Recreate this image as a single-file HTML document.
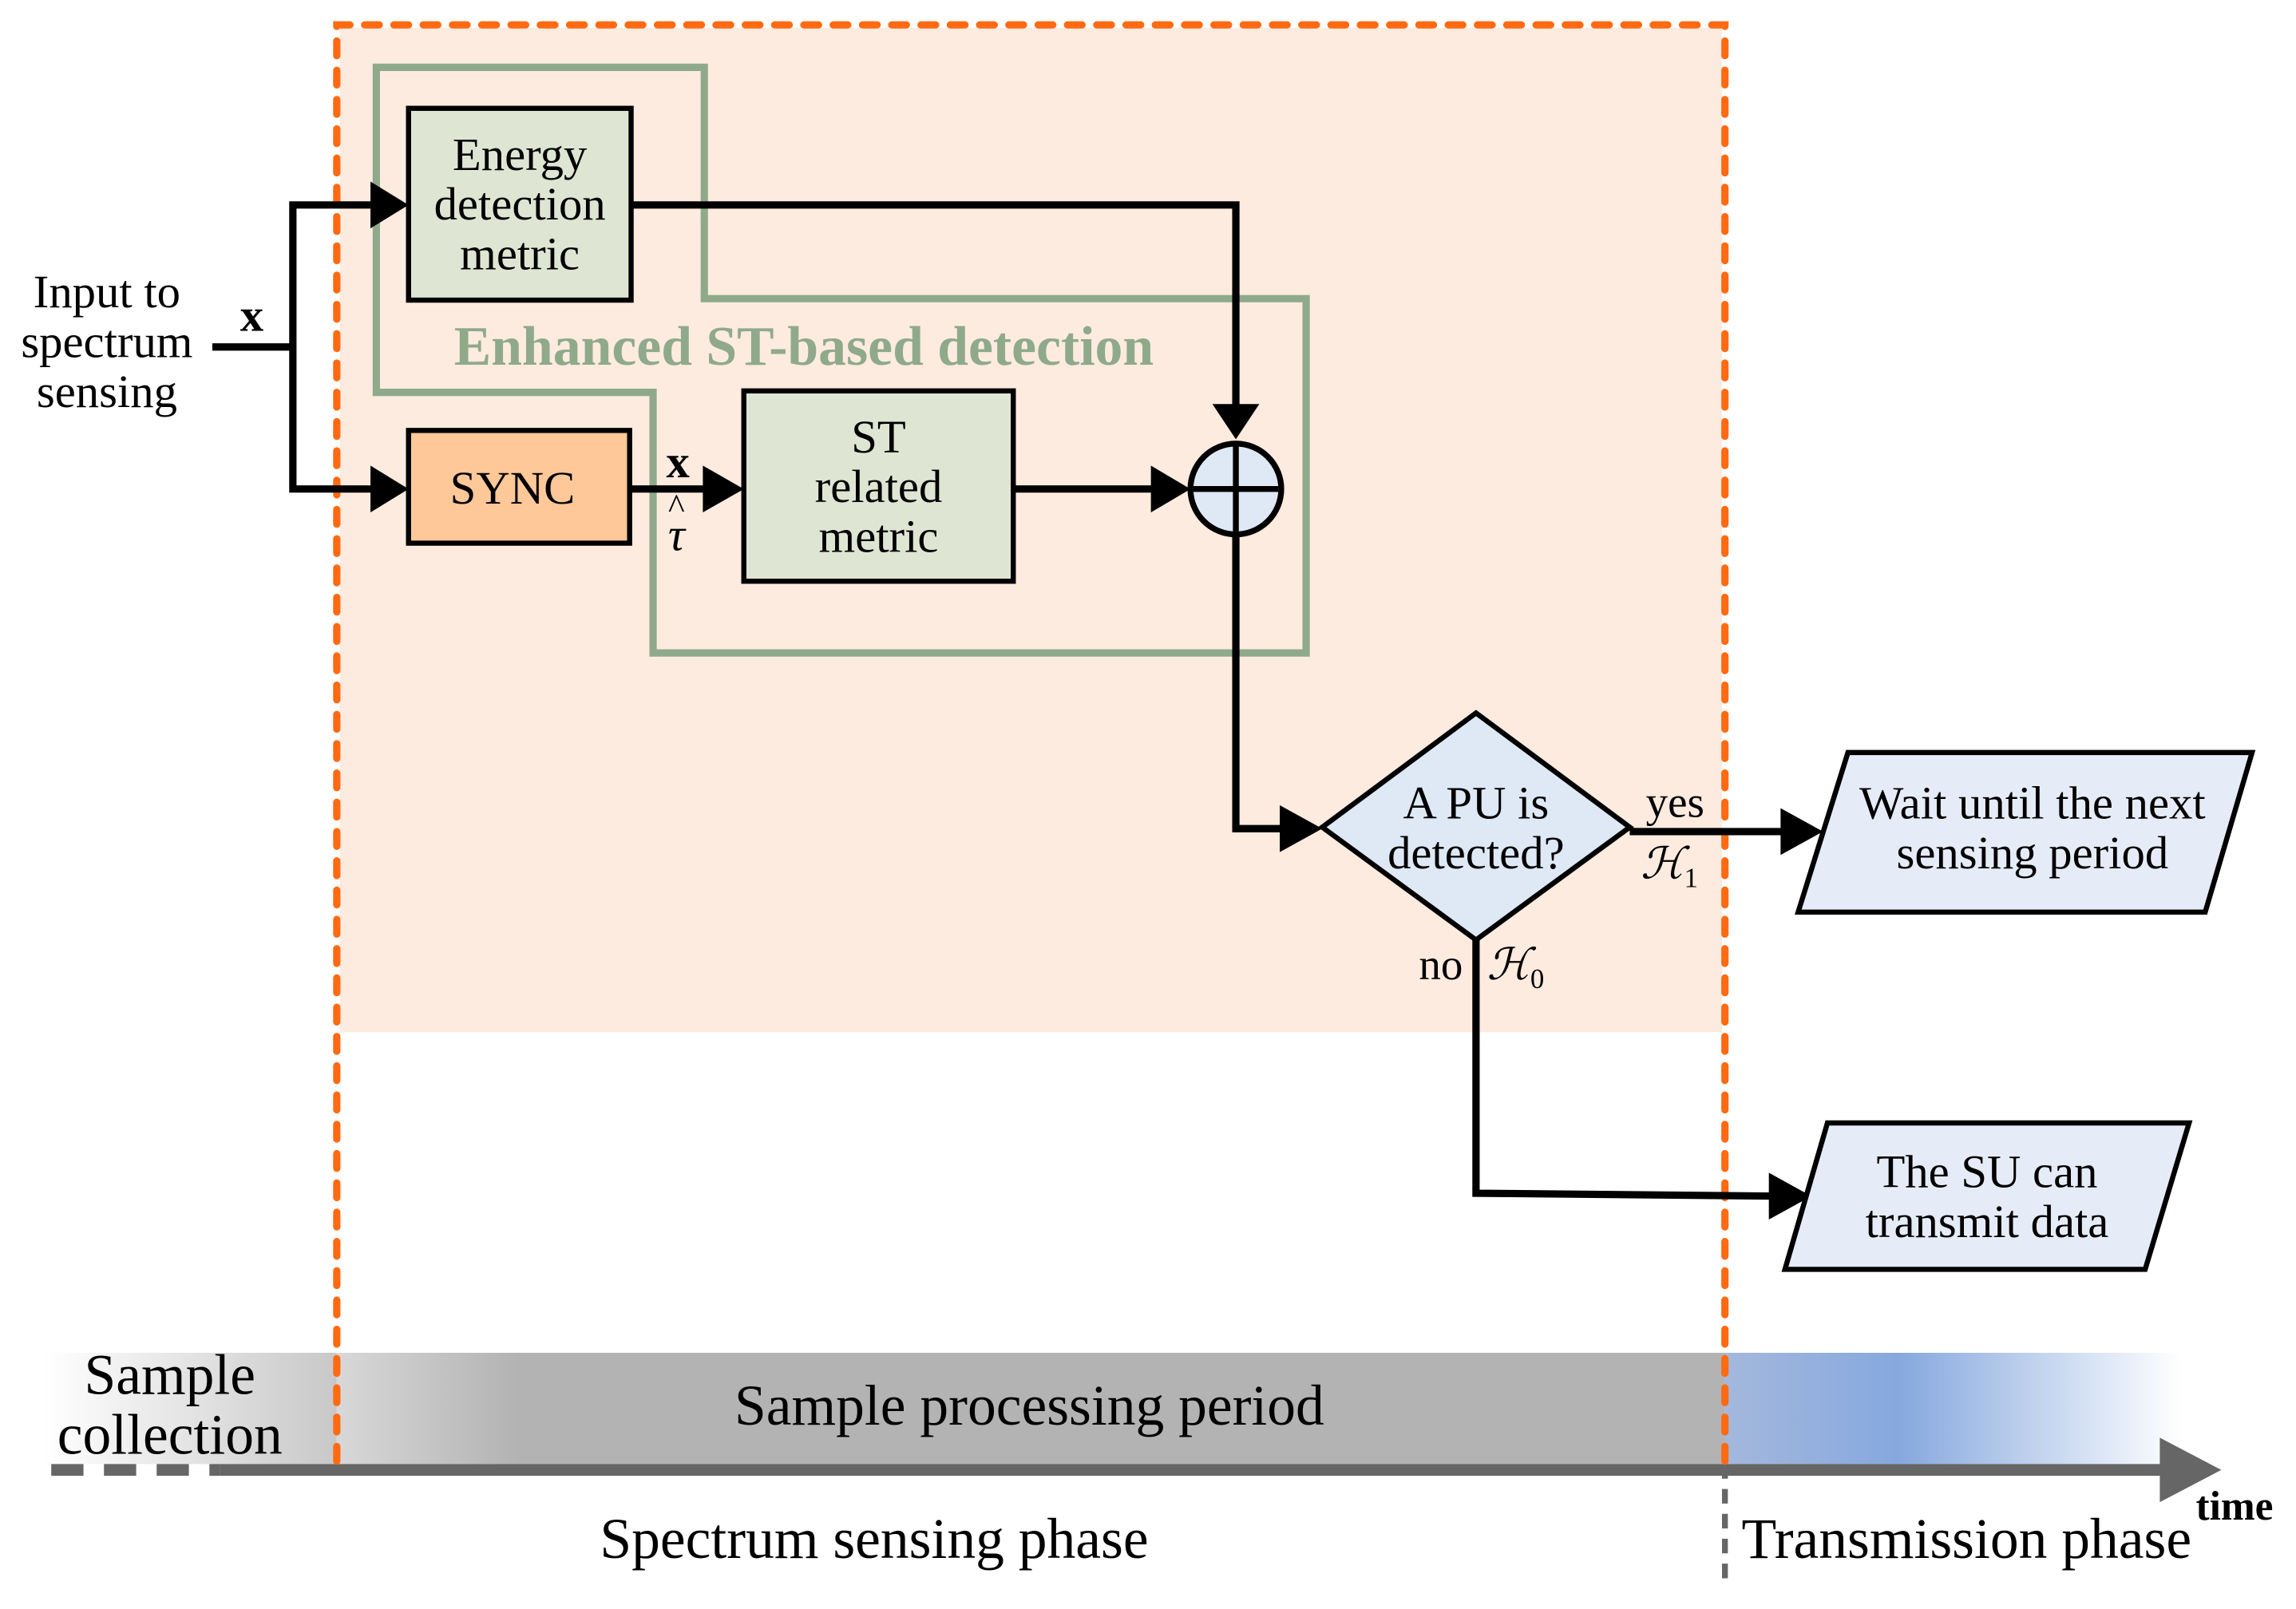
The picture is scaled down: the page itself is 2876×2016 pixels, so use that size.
<!DOCTYPE html>
<html><head><meta charset="utf-8"><style>
html,body{margin:0;padding:0;background:#fff;}
svg{display:block;}
text{font-family:"Liberation Serif",serif;fill:#000;}
</style></head><body>
<svg width="2876" height="2016" viewBox="0 0 1568 1099" preserveAspectRatio="none" xmlns="http://www.w3.org/2000/svg">
<defs>
<linearGradient id="gl" x1="0" x2="1"><stop offset="0" stop-color="#fff"/><stop offset="1" stop-color="#c8c8c8"/></linearGradient>
<linearGradient id="gg" x1="0" x2="1"><stop offset="0" stop-color="#d8d8d8"/><stop offset="0.13" stop-color="#b3b3b3"/><stop offset="1" stop-color="#b3b3b3"/></linearGradient>
<linearGradient id="gb" x1="0" x2="1"><stop offset="0" stop-color="#a4b8dc"/><stop offset="0.38" stop-color="#86a8de"/><stop offset="1" stop-color="#fff"/></linearGradient>
</defs>
<rect x="232" y="19" width="944" height="686" fill="#fdebdf"/>
<rect x="30" y="924" width="200" height="76" fill="url(#gl)"/>
<rect x="230" y="924" width="948" height="76" fill="url(#gg)"/>
<rect x="1178" y="924" width="312" height="76" fill="url(#gb)"/>
<line x1="150" y1="1004" x2="1480" y2="1004" stroke="#666" stroke-width="8"/>
<line x1="35" y1="1004" x2="150" y2="1004" stroke="#666" stroke-width="8" stroke-dasharray="22,14"/>
<path d="M1475,982 L1517,1004 L1475,1026 z" fill="#666"/>
<line x1="1178" y1="1000" x2="1178" y2="1082" stroke="#666" stroke-width="4" stroke-dasharray="10,7"/>
<path d="M257,46 L481,46 L481,204 L892,204 L892,446 L446,446 L446,268 L257,268 Z" fill="none" stroke="#8faa8a" stroke-width="5"/>
<path d="M230,998 L230,17 L1178,17 L1178,998" fill="none" stroke="#ff6a13" stroke-width="5" stroke-dasharray="10,10" stroke-linecap="round"/>
<g stroke="#000" stroke-width="5" fill="none">
<polyline points="145,237 200,237"/>
<polyline points="253,140 200,140 200,334 253,334"/>
<polyline points="431,140 844,140 844,278"/>
<polyline points="430,334 484,334"/>
<polyline points="692,334 790,334"/>
<polyline points="844,365 844,566 878,566"/>
<polyline points="1113,568 1220,568"/>
<polyline points="1008,642 1008,815 1212,817"/>
</g>
<g fill="#000">
<path d="M253,124 L279,140 L253,156 z"/>
<path d="M253,318 L279,334 L253,350 z"/>
<path d="M828,276 L844,300 L860,276 z"/>
<path d="M480,318 L508,334 L480,350 z"/>
<path d="M786,318 L813,334 L786,350 z"/>
<path d="M874,550 L903,566 L874,582 z"/>
<path d="M1216,552 L1245,568 L1216,584 z"/>
<path d="M1208,801 L1237,817 L1208,833 z"/>
</g>
<rect x="279" y="74" width="152" height="131" fill="#dfe5d3" stroke="#000" stroke-width="3.5"/>
<rect x="279" y="294" width="151" height="77" fill="#ffc899" stroke="#000" stroke-width="3.5"/>
<rect x="508" y="267" width="184" height="130" fill="#dfe5d3" stroke="#000" stroke-width="3.5"/>
<circle cx="844" cy="334" r="31" fill="#dfe8f5" stroke="#000" stroke-width="4"/>
<line x1="844" y1="305" x2="844" y2="363" stroke="#000" stroke-width="4"/>
<line x1="815" y1="334" x2="873" y2="334" stroke="#000" stroke-width="4"/>
<path d="M1008,487 L1113,565 L1008,642 L903,565 Z" fill="#dfe8f5" stroke="#000" stroke-width="3.5"/>
<path d="M1262,514 L1538,514 L1506,623 L1228,623 Z" fill="#e6ecf7" stroke="#000" stroke-width="3.5"/>
<path d="M1248,767 L1495,767 L1465,867 L1219,867 Z" fill="#e6ecf7" stroke="#000" stroke-width="3.5"/>
<g font-size="32" text-anchor="middle">
<text x="355" y="116">Energy</text>
<text x="355" y="150">detection</text>
<text x="355" y="184">metric</text>
<text x="350" y="344">SYNC</text>
<text x="600" y="309">ST</text>
<text x="600" y="343">related</text>
<text x="600" y="377">metric</text>
<text x="1008" y="559">A PU is</text>
<text x="1008" y="593">detected?</text>
<text x="1388" y="559">Wait until the next</text>
<text x="1388" y="593">sensing period</text>
<text x="1357" y="811">The SU can</text>
<text x="1357" y="845">transmit data</text>
<text x="73" y="210">Input to</text>
<text x="73" y="244">spectrum</text>
<text x="73" y="278">sensing</text>
<text x="116" y="952" font-size="39">Sample</text>
<text x="116" y="993" font-size="39">collection</text>
<text x="703" y="973" font-size="39">Sample processing period</text>
<text x="597" y="1064" font-size="39">Spectrum sensing phase</text>
<text x="1343" y="1064" font-size="39">Transmission phase</text>
</g>
<text x="549" y="249" font-size="38" font-weight="bold" text-anchor="middle" style="fill:#8faa8a">Enhanced ST-based detection</text>
<text x="172" y="226" font-size="32" font-weight="bold" text-anchor="middle">x</text>
<text x="463" y="326" font-size="32" font-weight="bold" text-anchor="middle">x</text>
<text x="462" y="376" font-size="32" font-style="italic" text-anchor="middle">τ</text>
<text x="462" y="354" font-size="24" text-anchor="middle">^</text>
<text x="1144" y="558" font-size="30" text-anchor="middle">yes</text>
<text x="1140" y="600" font-size="30" font-style="italic" text-anchor="middle">ℋ<tspan font-size="19" font-style="normal" dy="6">1</tspan></text>
<text x="984" y="669" font-size="30" text-anchor="middle">no</text>
<text x="1035" y="669" font-size="30" font-style="italic" text-anchor="middle">ℋ<tspan font-size="19" font-style="normal" dy="6">0</tspan></text>
<text x="1526" y="1038" font-size="28" font-weight="bold" text-anchor="middle">time</text>
</svg>
</body></html>
